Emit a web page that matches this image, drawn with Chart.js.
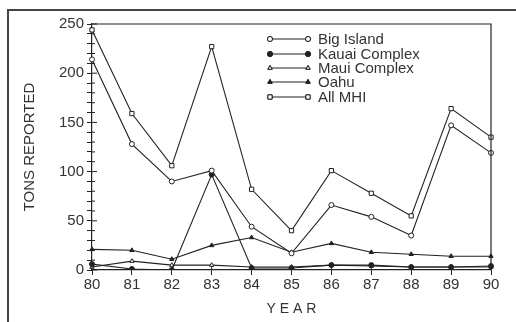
<!DOCTYPE html>
<html>
<head>
<meta charset="utf-8">
<script src="https://cdn.jsdelivr.net/npm/chart.js@4/dist/chart.umd.min.js"></script>
<style>
  body { margin: 0; background: #fff; }
  #frame { position: absolute; left: 7px; top: 9px; width: 520px; height: 330px;
           border-left: 2px solid #444; border-top: 2px solid #444; }
  #wrap { position: absolute; left: 0; top: 0; width: 516px; height: 322px; }
</style>
</head>
<body>
<div id="frame"></div>
<div id="wrap"><canvas id="lineChart" width="516" height="322"></canvas></div>
<script>
const years = ['80', '81', '82', '83', '84', '85', '86', '87', '88', '89', '90'];
const bigIsland = [214, 128, 90, 101, 44, 17, 66, 54, 35, 147, 119];
const kauaiComplex = [6, 1, 0, 97, 2, 2, 5, 5, 3, 3, 4];
const mauiComplex = [3, 9, 5, 5, 3, 3, 5, 4, 3, 3, 3];
const oahu = [21, 20, 11, 25, 33, 18, 27, 18, 16, 14, 14];
const allMHI = [244, 159, 106, 227, 82, 40, 101, 78, 55, 164, 135];

const ink = '#222';

const series = [
    { label: 'Big Island', data: bigIsland, style: 'circle', fill: false },
    { label: 'Kauai Complex', data: kauaiComplex, style: 'circle', fill: true },
    { label: 'Maui Complex', data: mauiComplex, style: 'triangle', fill: false },
    { label: 'Oahu', data: oahu, style: 'triangle', fill: true },
    { label: 'All MHI', data: allMHI, style: 'rect', fill: false },
];

// frame on top/right of plot, inner halves of tick marks, and the legend
const extras = {
    id: 'extras',
    afterDraw(chart) {
        const { ctx, chartArea: a } = chart;
        const xs = chart.scales.x, ys = chart.scales.y;
        ctx.save();
        ctx.strokeStyle = ink;
        ctx.lineWidth = 1.2;
        ctx.beginPath();
        ctx.moveTo(a.left, a.top);
        ctx.lineTo(a.right, a.top);
        ctx.lineTo(a.right, a.bottom);
        ctx.stroke();

        ctx.lineWidth = 1;
        ctx.beginPath();
        for (let v = 0; v <= 250; v += 10) {
            const y = ys.getPixelForValue(v);
            ctx.moveTo(a.left, y);
            ctx.lineTo(a.left + (v % 50 === 0 ? 5 : 3), y);
        }
        years.forEach((_, i) => {
            const x = xs.getPixelForValue(i);
            ctx.moveTo(x, a.bottom);
            ctx.lineTo(x, a.bottom - 4);
        });
        ctx.stroke();

        // legend
        ctx.font = '15px "Liberation Sans", Arial, sans-serif';
        ctx.fillStyle = '#333';
        ctx.textBaseline = 'middle';
        const rows = [39, 54, 68, 82, 97];
        chart.data.datasets.forEach((ds, i) => {
            const y = rows[i];
            ctx.strokeStyle = ink;
            ctx.lineWidth = 1;
            ctx.beginPath();
            ctx.moveTo(270, y);
            ctx.lineTo(308, y);
            ctx.stroke();
            [270, 308].forEach(x => {
                Chart.helpers.drawPoint(ctx, {
                    pointStyle: ds.pointStyle, radius: ds.pointRadius,
                    borderWidth: 1, rotation: 0
                }, x, y);
                ctx.fillStyle = ds.pointBackgroundColor;
                ctx.strokeStyle = ink;
                ctx.fill();
                ctx.stroke();
            });
            ctx.fillStyle = '#333';
            ctx.fillText(ds.label, 318, y + 1);
        });
        ctx.restore();
    }
};

const ctx = document.getElementById('lineChart').getContext('2d');
new Chart(ctx, {
    type: 'line',
    data: {
        labels: years,
        datasets: series.map(s => ({
            label: s.label,
            data: s.data,
            borderColor: ink,
            borderWidth: 1.1,
            pointStyle: s.style,
            pointRadius: s.style === 'rect' ? 3 : 2.5,
            pointBorderWidth: 1,
            pointBorderColor: ink,
            pointBackgroundColor: s.fill ? ink : '#fff',
            tension: 0,
        })),
    },
    options: {
        responsive: false,
        animation: false,
        layout: { padding: { left: 0, right: 25, top: 24, bottom: 0 } },
        plugins: {
            legend: { display: false },
            tooltip: { enabled: false },
        },
        scales: {
            x: {
                offset: false,
                grid: { drawOnChartArea: false, drawTicks: true, tickLength: 5, color: ink },
                border: { color: ink, width: 1.2 },
                ticks: { color: '#333', padding: 1, maxRotation: 0,
                         font: { size: 15, family: '"Liberation Sans", Arial, sans-serif' } },
                title: { display: true, text: 'Y E A R', color: '#333', padding: { top: 8 },
                         font: { size: 14, family: '"Liberation Sans", Arial, sans-serif' } },
                afterFit: (scale) => { scale.height = 52; },
            },
            y: {
                min: 0,
                max: 250,
                grid: { drawOnChartArea: false, drawTicks: true, color: ink,
                        tickLength: 5 },
                border: { color: ink, width: 1.2 },
                ticks: {
                    stepSize: 10,
                    autoSkip: false,
                    color: '#333',
                    padding: 3,
                    font: { size: 15, family: '"Liberation Sans", Arial, sans-serif' },
                    callback: (v) => (v % 50 === 0 ? v : ''),
                },
                title: { display: true, text: 'TONS REPORTED', color: '#333',
                         padding: { top: 21, bottom: 0 },
                         font: { size: 15, family: '"Liberation Sans", Arial, sans-serif' } },
                afterFit: (scale) => { scale.width = 92; },
            },
        },
    },
    plugins: [extras],
});
</script>
</body>
</html>
